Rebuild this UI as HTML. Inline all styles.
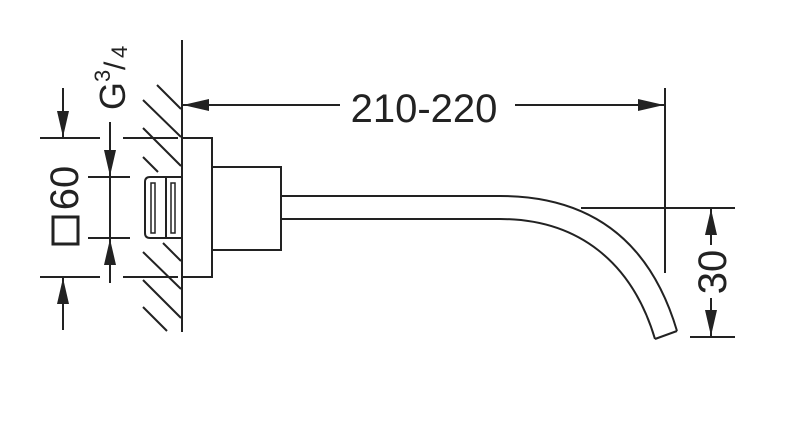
<!DOCTYPE html>
<html><head><style>body{margin:0;background:#fff}svg{display:block}</style></head>
<body>
<svg width="800" height="426" viewBox="0 0 800 426" xmlns="http://www.w3.org/2000/svg">
<defs>
<marker id="a" viewBox="0 0 26 12" refX="26" refY="6" markerWidth="26" markerHeight="12" markerUnits="userSpaceOnUse" orient="auto"><path d="M0,0 L26,6 L0,12z" fill="#222"/></marker>
</defs>
<g stroke="#222" stroke-width="2" fill="none">
<line x1="157" y1="85" x2="181" y2="109"/>
<line x1="143" y1="100" x2="181" y2="137"/>
<line x1="143" y1="128" x2="181" y2="166"/>
<line x1="143" y1="157" x2="158" y2="172"/>
<line x1="163" y1="243" x2="181" y2="261"/>
<line x1="143" y1="252" x2="181" y2="289"/>
<line x1="143" y1="280" x2="181" y2="318"/>
<line x1="143" y1="307" x2="167" y2="331"/>
<line x1="182" y1="40" x2="182" y2="332"/>
<path d="M182,177 H150 Q145,177 145,182 V233 Q145,238 150,238 H182" fill="#fff"/>
<line x1="166" y1="177" x2="166" y2="238" />
<rect x="151" y="183" width="4" height="50" stroke-width="1.5"/>
<rect x="171" y="183" width="4" height="50" stroke-width="1.5"/>
<rect x="182" y="138" width="30" height="139" fill="#fff"/>
<rect x="212" y="167" width="69" height="83" fill="#fff"/>
<path d="M281,196 H500 C590,196 650,240 677,331"/>
<path d="M281,219 H500 C578,219 632,262 655,339"/>
<line x1="655" y1="339" x2="677" y2="331"/>
<line x1="340" y1="105" x2="183" y2="105" marker-end="url(#a)"/>
<line x1="515" y1="105" x2="664" y2="105" marker-end="url(#a)"/>
<line x1="665" y1="88" x2="665" y2="273"/>
<line x1="581" y1="208" x2="735" y2="208"/>
<line x1="690" y1="337" x2="735" y2="337"/>
<line x1="711" y1="245" x2="711" y2="209" marker-end="url(#a)"/>
<line x1="711" y1="298" x2="711" y2="336" marker-end="url(#a)"/>
<line x1="40" y1="138" x2="100" y2="138"/>
<line x1="123" y1="138" x2="178" y2="138"/>
<line x1="40" y1="277" x2="100" y2="277"/>
<line x1="123" y1="277" x2="178" y2="277"/>
<line x1="63" y1="88" x2="63" y2="137" marker-end="url(#a)"/>
<line x1="63" y1="330" x2="63" y2="278" marker-end="url(#a)"/>
<line x1="88" y1="177" x2="130" y2="177"/>
<line x1="88" y1="238" x2="130" y2="238"/>
<line x1="110" y1="122" x2="110" y2="176" marker-end="url(#a)"/>
<line x1="110" y1="283" x2="110" y2="239" marker-end="url(#a)"/>
<line x1="110" y1="177" x2="110" y2="238"/>
<rect x="53" y="217" width="25" height="27" stroke-width="3"/>
</g>
<g font-family="Liberation Sans, sans-serif" fill="#222" font-size="40">
<text x="424" y="122" text-anchor="middle">210-220</text>
<text transform="translate(726,272) rotate(-90)" text-anchor="middle">30</text>
<text transform="translate(78,188) rotate(-90)" text-anchor="middle">60</text>
<text transform="translate(125,110) rotate(-90)" font-size="36">G</text>
<text transform="translate(110,82) rotate(-90)" font-size="22">3</text>
<text transform="translate(125,70) rotate(-90)" font-size="30">/</text>
<text transform="translate(127,58) rotate(-90)" font-size="22">4</text>
</g>
</svg>
</body></html>
